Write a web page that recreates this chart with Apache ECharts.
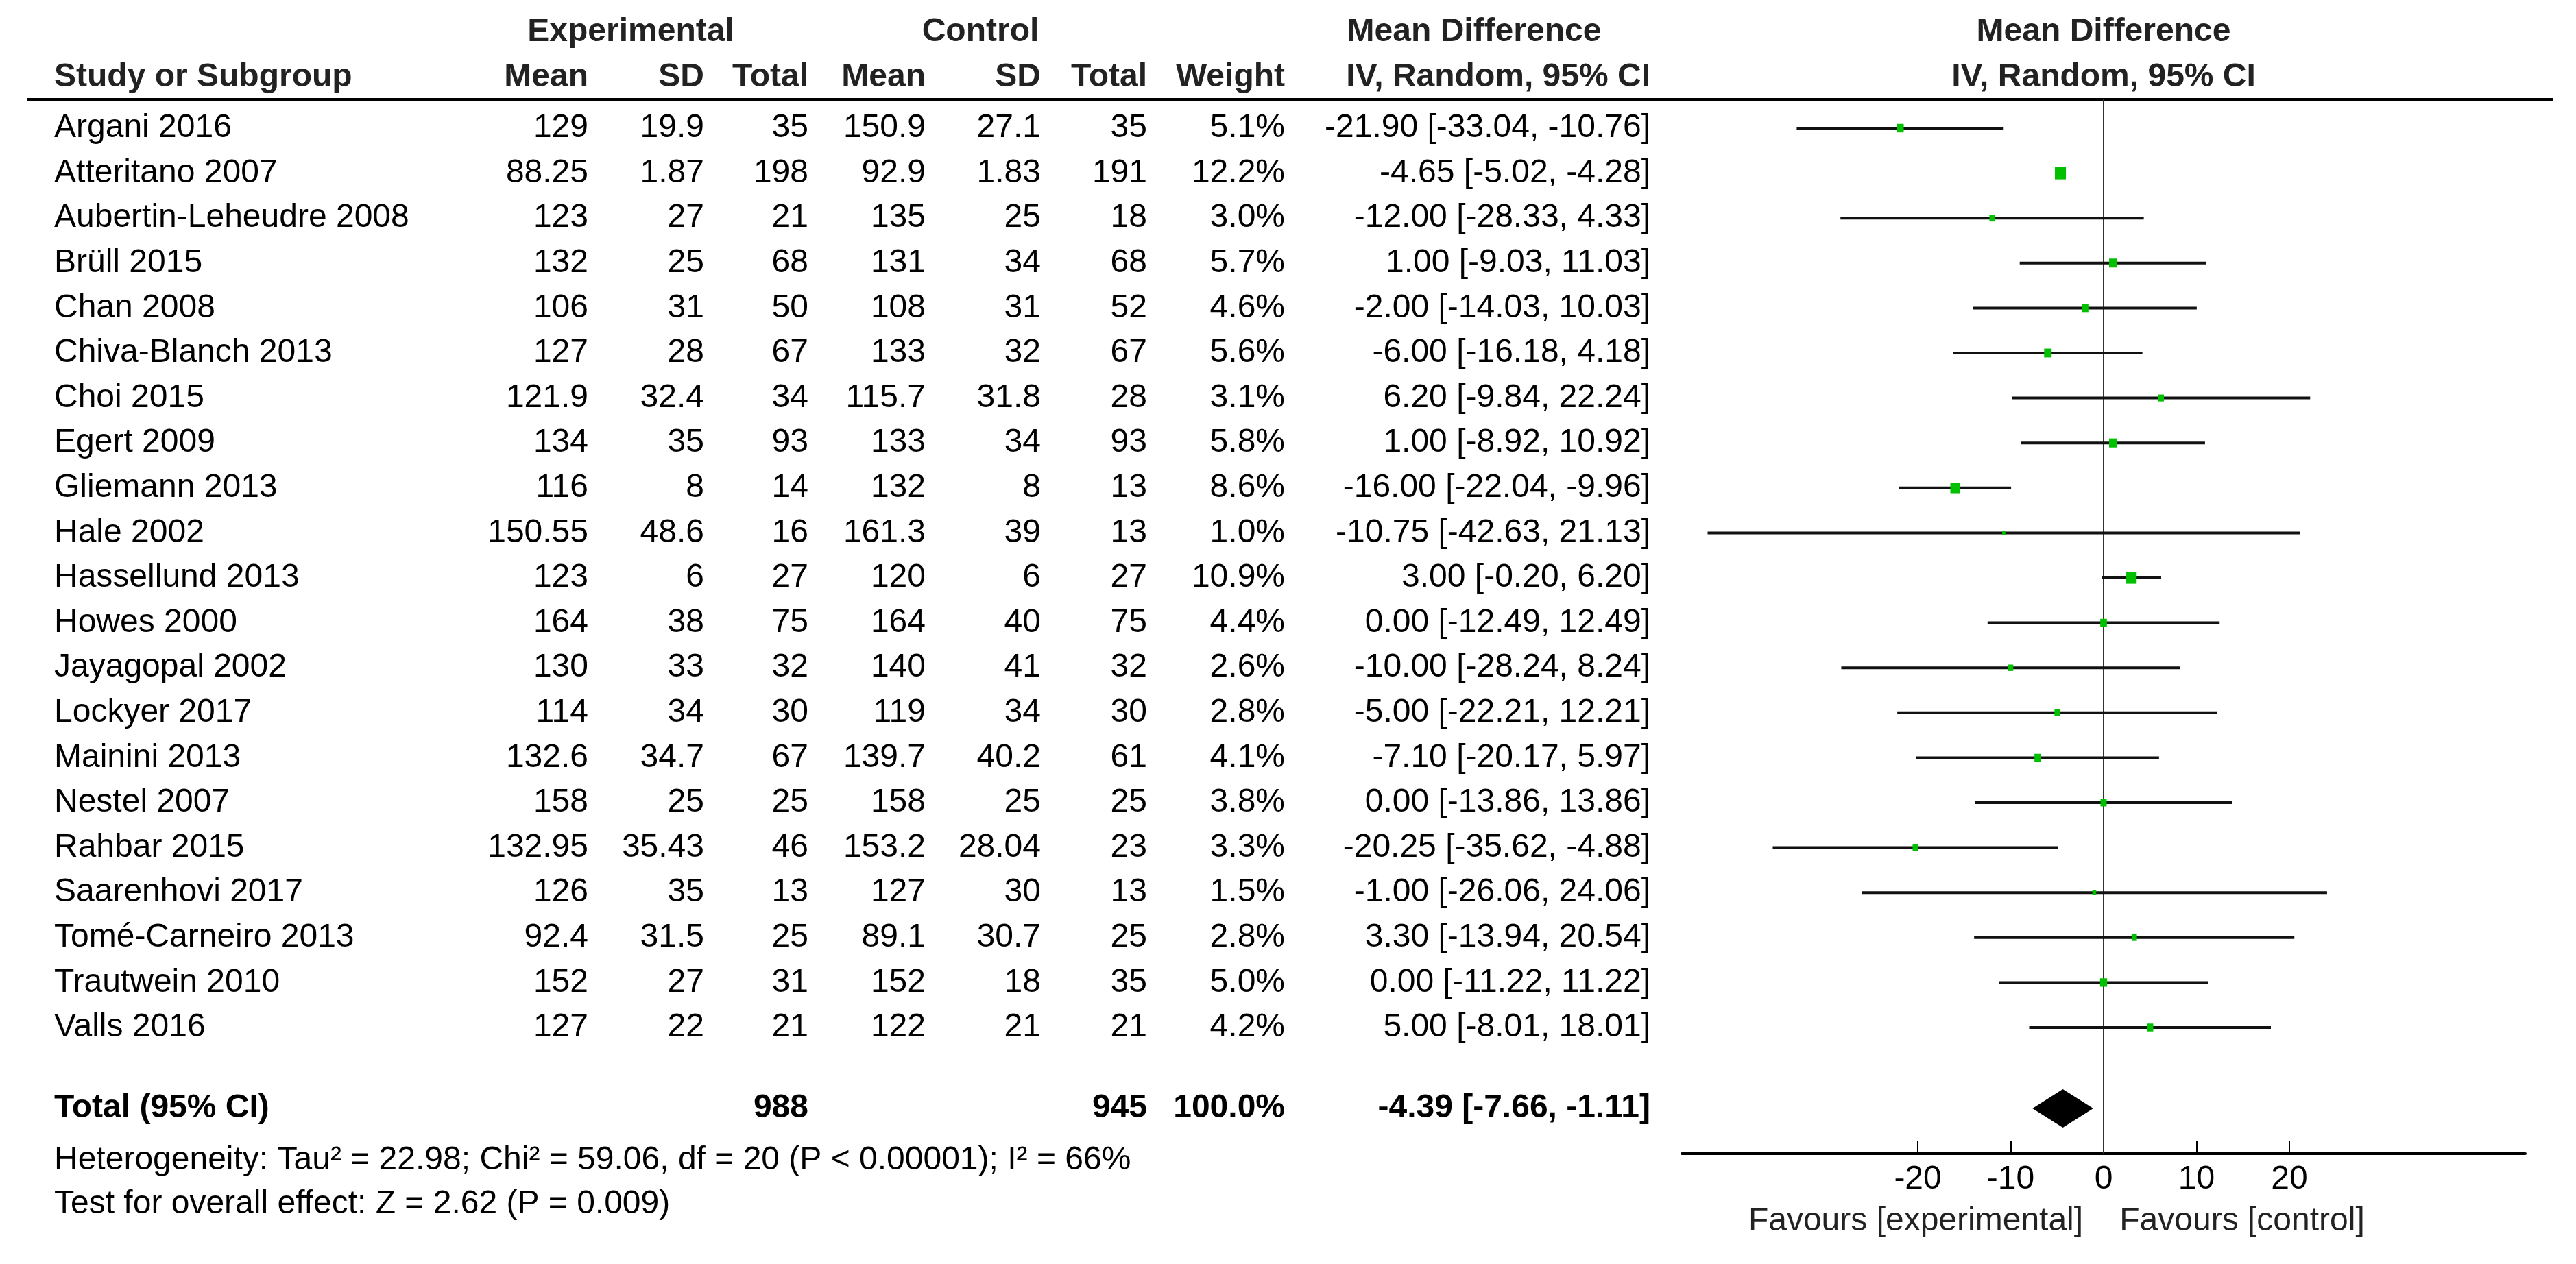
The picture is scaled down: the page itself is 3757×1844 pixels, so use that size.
<!DOCTYPE html>
<html>
<head>
<meta charset="utf-8">
<script src="https://cdn.jsdelivr.net/npm/echarts@6.0.0/dist/echarts.min.js"></script>
<style>
html, body { margin: 0; padding: 0; background: #fff; }
#chart { width: 3757px; height: 1844px; }
</style>
</head>
<body>
<div id="chart"></div>
<script>
// --- data ---
var studies = ['Argani 2016', 'Atteritano 2007', 'Aubertin-Leheudre 2008', 'Brüll 2015', 'Chan 2008',
  'Chiva-Blanch 2013', 'Choi 2015', 'Egert 2009', 'Gliemann 2013', 'Hale 2002', 'Hassellund 2013',
  'Howes 2000', 'Jayagopal 2002', 'Lockyer 2017', 'Mainini 2013', 'Nestel 2007', 'Rahbar 2015',
  'Saarenhovi 2017', 'Tomé-Carneiro 2013', 'Trautwein 2010', 'Valls 2016'];
var expMean = [129, 88.25, 123, 132, 106, 127, 121.9, 134, 116, 150.55, 123, 164, 130, 114, 132.6, 158, 132.95, 126, 92.4, 152, 127];
var expSD = [19.9, 1.87, 27, 25, 31, 28, 32.4, 35, 8, 48.6, 6, 38, 33, 34, 34.7, 25, 35.43, 35, 31.5, 27, 22];
var expN = [35, 198, 21, 68, 50, 67, 34, 93, 14, 16, 27, 75, 32, 30, 67, 25, 46, 13, 25, 31, 21];
var ctlMean = [150.9, 92.9, 135, 131, 108, 133, 115.7, 133, 132, 161.3, 120, 164, 140, 119, 139.7, 158, 153.2, 127, 89.1, 152, 122];
var ctlSD = [27.1, 1.83, 25, 34, 31, 32, 31.8, 34, 8, 39, 6, 40, 41, 34, 40.2, 25, 28.04, 30, 30.7, 18, 21];
var ctlN = [35, 191, 18, 68, 52, 67, 28, 93, 13, 13, 27, 75, 32, 30, 61, 25, 23, 13, 25, 35, 21];
var weight = [5.1, 12.2, 3.0, 5.7, 4.6, 5.6, 3.1, 5.8, 8.6, 1.0, 10.9, 4.4, 2.6, 2.8, 4.1, 3.8, 3.3, 1.5, 2.8, 5.0, 4.2];
var md = [-21.90, -4.65, -12.00, 1.00, -2.00, -6.00, 6.20, 1.00, -16.00, -10.75, 3.00, 0.00, -10.00, -5.00, -7.10, 0.00, -20.25, -1.00, 3.30, 0.00, 5.00];
var ciLow = [-33.04, -5.02, -28.33, -9.03, -14.03, -16.18, -9.84, -8.92, -22.04, -42.63, -0.20, -12.49, -28.24, -22.21, -20.17, -13.86, -35.62, -26.06, -13.94, -11.22, -8.01];
var ciHigh = [-10.76, -4.28, 4.33, 11.03, 10.03, 4.18, 22.24, 10.92, -9.96, 21.13, 6.20, 12.49, 8.24, 12.21, 5.97, 13.86, -4.88, 24.06, 20.54, 11.22, 18.01];

var totalExpN = 988;
var totalCtlN = 945;
var totalWeight = 100.0;
var totalMD = -4.39;
var totalLow = -7.66;
var totalHigh = -1.11;

var axisTicks = [-20, -10, 0, 10, 20];
var heterogeneity = 'Heterogeneity: Tau\u00b2 = 22.98; Chi\u00b2 = 59.06, df = 20 (P < 0.00001); I\u00b2 = 66%';
var overallTest = 'Test for overall effect: Z = 2.62 (P = 0.009)';

// --- layout ---
var FONT = "'Liberation Sans', Arial, sans-serif";
var FS = 48;
var rowMin = -0.64, rowMax = 22.805;   // row index range covered by the grids
var totalRow = 21.8;
var col = { name: 79, expMean: 858, expSD: 1027, expN: 1179, ctlMean: 1350, ctlSD: 1518, ctlN: 1673, weight: 1874, ci: 2407 };

function ciText(m, l, h) {
  return m.toFixed(2) + ' [' + l.toFixed(2) + ', ' + h.toFixed(2) + ']';
}

// table cells: [x, row, text, align, bold]
var cells = [];
studies.forEach(function(s, i) {
  cells.push([col.name, i, s, 'left', false]);
  cells.push([col.expMean, i, String(expMean[i]), 'right', false]);
  cells.push([col.expSD, i, String(expSD[i]), 'right', false]);
  cells.push([col.expN, i, String(expN[i]), 'right', false]);
  cells.push([col.ctlMean, i, String(ctlMean[i]), 'right', false]);
  cells.push([col.ctlSD, i, String(ctlSD[i]), 'right', false]);
  cells.push([col.ctlN, i, String(ctlN[i]), 'right', false]);
  cells.push([col.weight, i, weight[i].toFixed(1) + '%', 'right', false]);
  cells.push([col.ci, i, ciText(md[i], ciLow[i], ciHigh[i]), 'right', false]);
});
cells.push([col.name, totalRow, 'Total (95% CI)', 'left', true]);
cells.push([col.expN, totalRow, String(totalExpN), 'right', true]);
cells.push([col.ctlN, totalRow, String(totalCtlN), 'right', true]);
cells.push([col.weight, totalRow, totalWeight.toFixed(1) + '%', 'right', true]);
cells.push([col.ci, totalRow, ciText(totalMD, totalLow, totalHigh), 'right', true]);

function txt(x, y, text, align, bold, color) {
  return {
    type: 'text', x: x, y: y, silent: true,
    style: { text: text, font: (bold ? 'bold ' : '') + FS + 'px ' + FONT, fill: color || '#000', align: align, verticalAlign: 'middle' }
  };
}

var chart = echarts.init(document.getElementById('chart'));
chart.setOption({
  animation: false,
  backgroundColor: '#fff',
  grid: [
    { left: 0, right: 0, top: 145, bottom: 161 },
    { left: 2453, right: 74, top: 145, bottom: 161 }
  ],
  xAxis: [
    { gridIndex: 0, type: 'value', min: 0, max: 3757, show: false },
    {
      gridIndex: 1, type: 'value', min: -45.4, max: 45.4,
      axisLine: { onZero: false, lineStyle: { color: '#000', width: 4 } },
      axisTick: { show: true, inside: true, length: 19, customValues: axisTicks, lineStyle: { color: '#000', width: 2 } },
      axisLabel: { customValues: axisTicks, color: '#000', fontSize: FS, fontFamily: FONT, margin: 14 },
      splitLine: { show: false }
    }
  ],
  yAxis: [
    { gridIndex: 0, type: 'value', inverse: true, min: rowMin, max: rowMax, show: false },
    { gridIndex: 1, type: 'value', inverse: true, min: rowMin, max: rowMax, show: false }
  ],
  graphic: [
    { type: 'line', silent: true, shape: { x1: 40, y1: 145, x2: 3724, y2: 145 }, style: { stroke: '#000', lineWidth: 4 } },
    txt(920, 47, 'Experimental', 'center', true, '#222'),
    txt(1430, 47, 'Control', 'center', true, '#222'),
    txt(2150, 47, 'Mean Difference', 'center', true, '#222'),
    txt(3068, 47, 'Mean Difference', 'center', true, '#222'),
    txt(col.name, 113, 'Study or Subgroup', 'left', true, '#222'),
    txt(col.expMean, 113, 'Mean', 'right', true, '#222'),
    txt(col.expSD, 113, 'SD', 'right', true, '#222'),
    txt(col.expN, 113, 'Total', 'right', true, '#222'),
    txt(col.ctlMean, 113, 'Mean', 'right', true, '#222'),
    txt(col.ctlSD, 113, 'SD', 'right', true, '#222'),
    txt(col.ctlN, 113, 'Total', 'right', true, '#222'),
    txt(col.weight, 113, 'Weight', 'right', true, '#222'),
    txt(col.ci, 113, 'IV, Random, 95% CI', 'right', true, '#222'),
    txt(3068, 113, 'IV, Random, 95% CI', 'center', true, '#222'),
    txt(col.name, 1693, heterogeneity, 'left', false),
    txt(col.name, 1757, overallTest, 'left', false),
    txt(2794, 1782, 'Favours [experimental]', 'center', false, '#222'),
    txt(3270, 1782, 'Favours [control]', 'center', false, '#222')
  ],
  series: [
    {
      // table text
      type: 'custom', xAxisIndex: 0, yAxisIndex: 0, silent: true,
      data: cells.map(function(c) { return [c[0], c[1]]; }),
      renderItem: function(params, api) {
        var c = cells[params.dataIndex];
        var p = api.coord([api.value(0), api.value(1)]);
        return txt(p[0], p[1], c[2], c[3], c[4]);
      }
    },
    {
      // pooled diamond + line of no effect
      type: 'custom', xAxisIndex: 1, yAxisIndex: 1, silent: true, z: 2,
      data: [[totalMD, totalRow, totalLow, totalHigh]],
      renderItem: function(params, api) {
        var c = api.coord([api.value(0), api.value(1)]);
        var l = api.coord([api.value(2), api.value(1)]);
        var r = api.coord([api.value(3), api.value(1)]);
        var h = 28;
        return {
          type: 'polygon',
          shape: { points: [[l[0], c[1]], [c[0], c[1] - h], [r[0], c[1]], [c[0], c[1] + h]] },
          style: { fill: '#000' }
        };
      },
      markLine: {
        silent: true, symbol: ['none', 'none'],
        label: { show: false },
        lineStyle: { color: '#333', width: 2, type: 'solid' },
        data: [{ xAxis: 0 }]
      }
    },
    {
      // study CIs and weighted squares
      type: 'custom', xAxisIndex: 1, yAxisIndex: 1, silent: true, z: 5,
      data: studies.map(function(s, i) { return [md[i], i, ciLow[i], ciHigh[i], weight[i]]; }),
      renderItem: function(params, api) {
        var y = api.value(1);
        var c = api.coord([api.value(0), y]);
        var l = api.coord([api.value(2), y]);
        var r = api.coord([api.value(3), y]);
        var s = 4.6 * Math.sqrt(api.value(4));
        return {
          type: 'group',
          children: [
            { type: 'line', shape: { x1: l[0], y1: l[1], x2: r[0], y2: r[1] }, style: { stroke: '#111', lineWidth: 4 } },
            { type: 'rect', shape: { x: c[0] - s / 2, y: c[1] - s / 2 - 1, width: s, height: s + 2 }, style: { fill: '#00c000' } }
          ]
        };
      }
    }
  ]
});
</script>
</body>
</html>
